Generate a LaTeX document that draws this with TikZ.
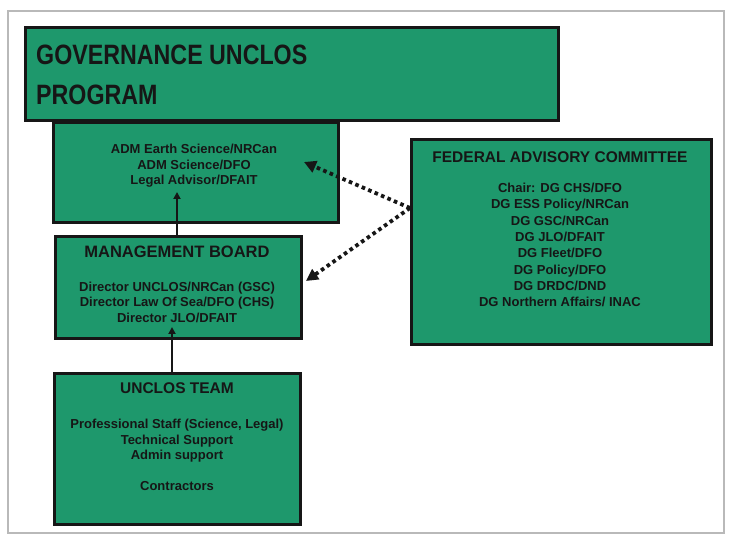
\documentclass[tikz,border=0pt]{standalone}
\usepackage{fontspec}
\setmainfont{Liberation Sans}
\usetikzlibrary{arrows.meta}
\definecolor{boxgreen}{RGB}{30,152,108}
\definecolor{ink}{RGB}{22,22,22}
\definecolor{framegray}{RGB}{185,185,185}
\begin{document}
\begin{tikzpicture}[x=1pt,y=-1pt,
  box/.style={draw=ink,line width=2.8pt,fill=boxgreen,inner sep=0pt,anchor=north west},
  titletext/.style={anchor=base west,inner sep=0pt,text=ink,font=\bfseries\fontsize{28}{40}\selectfont},
  headtext/.style={inner sep=0pt,text=ink,font=\bfseries\fontsize{15.5}{18}\selectfont},
  bodytext/.style={inner sep=0pt,text=ink,align=center,font=\bfseries\fontsize{13}{15.5}\selectfont},
  solidarrow/.style={draw=ink,line width=2.6pt,-{Triangle[length=7pt,width=7pt]}},
  dotarrow/.style={draw=ink,line width=3.8pt,dash pattern=on 3.6pt off 3.4pt,-{Triangle[length=12pt,width=12pt]}}
]
\useasboundingbox (0,0) rectangle (729,537);
\fill[white] (0,0) rectangle (729,537);
\draw[framegray,line width=1.2pt] (8,11) rectangle (724,533);

% boxes
\node[box,minimum width=533pt,minimum height=93pt] (title) at (24,26) {};
\node[box,minimum width=285pt,minimum height=100pt] (adm) at (52,121) {};
\node[box,minimum width=246pt,minimum height=102pt] (mb) at (54,235) {};
\node[box,minimum width=246pt,minimum height=151pt] (team) at (53,372) {};
\node[box,minimum width=300pt,minimum height=205pt] (fed) at (410,138) {};

% title
\node[titletext] (t1) at (36,65) {\scalebox{0.83}[1]{GOVERNANCE UNCLOS}};
\node[titletext] (t2) at (36,105) {\scalebox{0.83}[1]{PROGRAM}};

% ADM box
\node[bodytext] (admtext) at (194,166) {ADM Earth Science/NRCan\\ADM Science/DFO\\Legal Advisor/DFAIT};

% management board
\node[headtext,font=\bfseries\fontsize{16.5}{19}\selectfont] (mbhead) at (177,252) {MANAGEMENT BOARD};
\node[bodytext] (mbtext) at (177,302) {Director UNCLOS/NRCan (GSC)\\Director Law Of Sea/DFO (CHS)\\Director JLO/DFAIT};

% team
\node[headtext] (teamhead) at (177,388) {UNCLOS TEAM};
\node[bodytext] (teamtext) at (177,455) {Professional Staff (Science, Legal)\\Technical Support\\Admin support\\[15.5pt]Contractors};

% federal advisory committee
\node[headtext] (fedhead) at (560,157) {FEDERAL ADVISORY COMMITTEE};
\node[bodytext,font=\bfseries\fontsize{13}{16.3}\selectfont] (fedtext) at (560,245) {Chair: DG CHS/DFO\\DG ESS Policy/NRCan\\DG GSC/NRCan\\DG JLO/DFAIT\\DG Fleet/DFO\\DG Policy/DFO\\DG DRDC/DND\\DG Northern Affairs/ INAC};

% connectors
\coordinate (admtip) at (177,192);
\coordinate (mbtip) at (172,327);
\coordinate (fedsrc) at (410,208);
\coordinate (dotA) at (304,162);
\coordinate (dotB) at (306,281);
\draw[solidarrow] (mb.north -| admtip) -- (admtip);
\draw[solidarrow] (team.north -| mbtip) -- (mbtip);
\draw[dotarrow] (fedsrc) -- (dotA);
\draw[dotarrow] (fedsrc) -- (dotB);
\end{tikzpicture}
\end{document}
